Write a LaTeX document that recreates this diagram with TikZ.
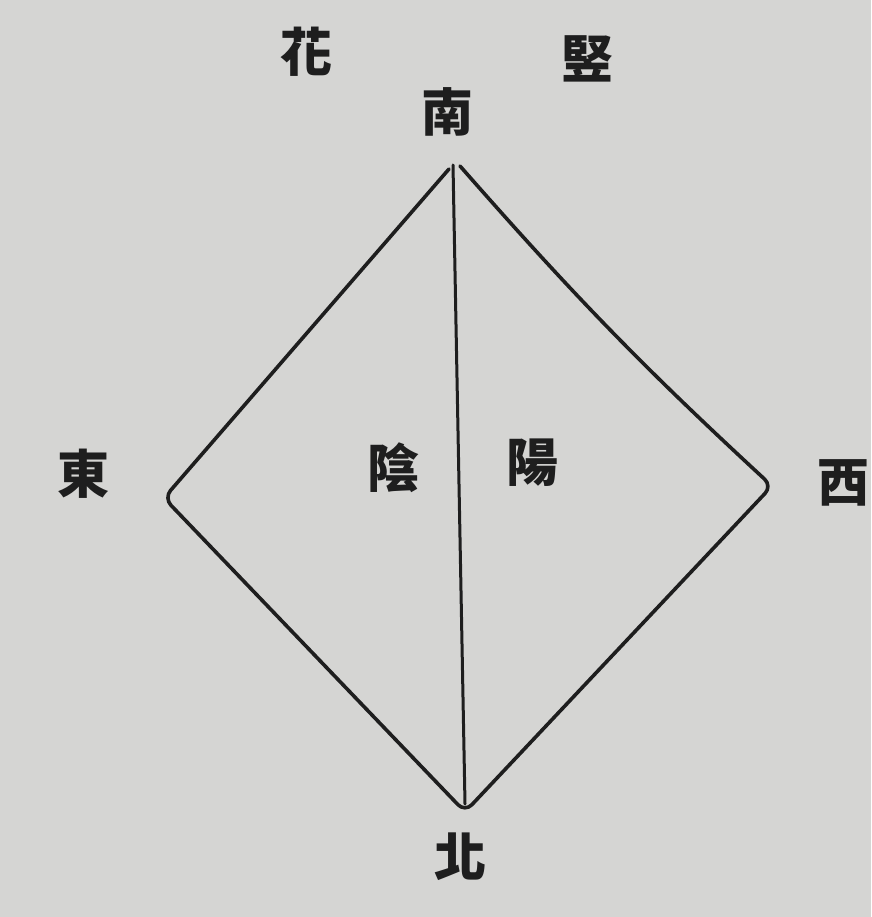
\documentclass[tikz,border=0pt]{standalone}
\usepackage{fontspec}
\newfontfamily\cjk{Noto Sans CJK TC}
\definecolor{paper}{RGB}{213,213,211}
\definecolor{ink}{RGB}{30,30,30}
\begin{document}
\begin{tikzpicture}[x=1pt,y=-1pt,
  lbl/.style={inner sep=0pt,text=ink,font=\cjk\bfseries\fontsize{52}{52}\selectfont},
  edge/.style={draw=ink,line width=3.6pt,line join=round,line cap=round},
  axis/.style={draw=ink,line width=3pt,line cap=round}]
\fill[paper] (0,0) rectangle (871,917);
\useasboundingbox (0,0) rectangle (871,917);
% vertices
\coordinate (tl) at (449,169);
\coordinate (tr) at (460,166);
\coordinate (top) at (453,165);
\coordinate (E) at (164,498);
\coordinate (S) at (465,812);
\coordinate (W) at (772,486);
\coordinate (bot) at (465,804);
% labels
\node[lbl] (hua) at (306,52) {花};
\node[lbl] (shu) at (587,59) {竪};
\node[lbl] (nan) at (447,112) {南};
\node[lbl] (dong) at (83,474) {東};
\node[lbl] (yin) at (393,468) {陰};
\node[lbl] (yang) at (532,463) {陽};
\node[lbl] (xi) at (843,483) {西};
\node[lbl] (bei) at (460,857) {北};
% diamond
\draw[edge,rounded corners=10pt] (tl) -- (E) -- (S) -- (W) to[bend left=3] (tr);
\draw[axis] (top) -- (bot);
\end{tikzpicture}
\end{document}
